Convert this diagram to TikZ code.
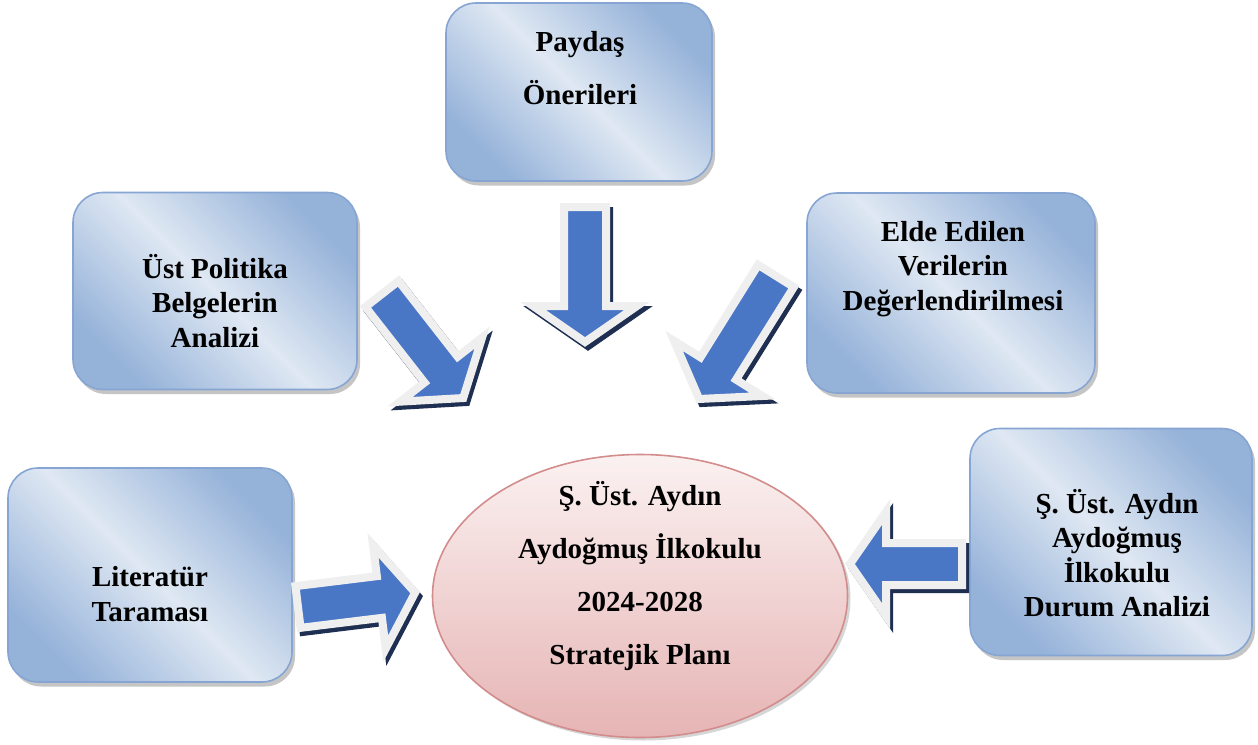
\documentclass[tikz,border=0pt]{standalone}
\usepackage{fontspec}
\setmainfont{Liberation Serif}
\usetikzlibrary{calc,shadows,shapes.geometric}
\definecolor{boxlight}{HTML}{DFE8F3}
\definecolor{boxdark}{HTML}{95B2D9}
\definecolor{boxedge}{HTML}{86A5D2}
\definecolor{elltop}{HTML}{FBF1F1}
\definecolor{ellbot}{HTML}{E6B4B4}
\definecolor{elledge}{HTML}{D38C8C}
\definecolor{arrblue}{HTML}{4A76C6}
\definecolor{arredge}{HTML}{EFEFEF}
\definecolor{arrshadow}{HTML}{1E2F52}
\newcommand\arrowpath[1]{(0,-21) -- (#1-36,-21) -- (#1-36,-52) -- (#1,0) -- (#1-36,52) -- (#1-36,21) -- (0,21) -- cycle}
\newcommand\blockarrow[4]{%
  \begin{scope}[shift={(#1+3,#2+4)}, rotate=#3]
    \path[arrshad] \arrowpath{#4};
  \end{scope}
  \begin{scope}[shift={(#1,#2)}, rotate=#3]
    \path[arrbody] \arrowpath{#4};
  \end{scope}}
\begin{document}
\begin{tikzpicture}[x=0.02cm,y=-0.02cm,
  box/.style 2 args={draw=boxedge, line width=0.9pt, rounded corners=0.6cm,
    minimum width=#1*0.02cm, minimum height=#2*0.02cm,
    left color=boxdark, right color=boxdark, middle color=boxlight, shading angle=135,
    drop shadow={shadow xshift=0.06cm, shadow yshift=-0.09cm, fill=black!45, opacity=0.5}},
  lbl/.style={font=\bfseries\fontsize{16.5}{19.6}\selectfont, align=center, inner sep=0pt},
  lblwide/.style={font=\bfseries\fontsize{16.5}{30}\selectfont, align=center, inner sep=0pt},
  arrshad/.style={fill=arrshadow, draw=arrshadow, line width=0.16cm, line join=miter},
  arrbody/.style={fill=arrblue, draw=arredge, line width=0.16cm, line join=miter},
  ell/.style={ellipse, draw=elledge, line width=0.9pt, top color=elltop, bottom color=ellbot,
    minimum width=415*0.02cm, minimum height=283*0.02cm,
    drop shadow={shadow xshift=0.06cm, shadow yshift=-0.06cm, fill=black!40, opacity=0.4}}]
\useasboundingbox (0,0) rectangle (1258,744);
\fill[white] (0,0) rectangle (1258,744);

% boxes
\node[box={266}{178}] (P) at (579,92) {};
\node[box={284}{197}] (U) at (215,291) {};
\node[box={288}{200}] (E) at (951,293) {};
\node[box={284}{214}] (L) at (150,575) {};
\node[box={282}{227}] (D) at (1111,542) {};
\node[ell] (S) at (640,596) {};

% texts
\node[lblwide] (Pt) at ($(P.center)+(1,-24)$) {Paydaş\\Önerileri};
\node[lbl] (Ut) at ($(U.center)+(0,10)$) {Üst Politika\\Belgelerin\\Analizi};
\node[lbl] (Et) at ($(E.center)+(2,-24)$) {Elde Edilen\\Verilerin\\Değerlendirilmesi};
\node[lbl] (Lt) at ($(L.center)+(0,19)$) {Literatür\\Taraması};
\node[lbl] (Dt) at ($(D.center)+(6,11)$) {Ş. Üst. Aydın\\Aydoğmuş\\İlkokulu\\Durum Analizi};
\node[lblwide] (St) at ($(S.center)+(0,-20)$) {Ş. Üst. Aydın\\Aydoğmuş İlkokulu\\2024-2028\\Stratejik Planı};

% block arrows
\blockarrow{585}{207}{-90}{135}
\blockarrow{382}{294}{-52}{132}
\blockarrow{776}{276}{-122}{145}
\blockarrow{298}{607}{7}{118}
\blockarrow{962}{564}{180}{112}
\end{tikzpicture}
\end{document}
